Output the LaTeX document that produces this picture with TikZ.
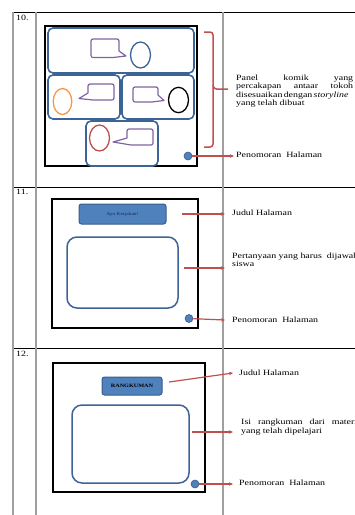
\documentclass[tikz,border=0pt]{standalone}
\usepackage{fontspec}
\setmainfont{Liberation Serif}
\newfontfamily\tf[FakeStretch=1.24]{Liberation Serif}
\usetikzlibrary{arrows.meta}
\definecolor{pnl}{HTML}{3C6496}
\definecolor{fillb}{HTML}{4F81BD}
\definecolor{dkb}{HTML}{385D8A}
\definecolor{purp}{HTML}{8064A2}
\definecolor{orng}{HTML}{F79646}
\definecolor{arred}{HTML}{C0504D}
\definecolor{navy}{HTML}{1A2A48}
\begin{document}
\begin{tikzpicture}[x=1pt,y=-1pt,
  frame/.style={draw=black,line width=1.6pt},
  panel/.style={draw=pnl,line width=1.6pt,rounded corners=5pt},
  bigbox/.style={draw=pnl,line width=1.5pt,rounded corners=10pt},
  bub/.style={draw=purp,line width=1.2pt,line join=round},
  face/.style={line width=1.3pt},
  pdot/.style={circle,fill=fillb,draw=dkb,line width=0.6pt,minimum size=8pt,inner sep=0pt},
  redarr/.style={draw=arred,line width=1.2pt,-{Stealth[length=4pt,width=3.5pt]}},
  lbl/.style={font=\tf\fontsize{8}{8.4}\selectfont,inner sep=0pt,anchor=west},
  tline/.style={draw=gray!75,line width=1.2pt},
  hline/.style={draw=black,line width=0.9pt},
  tbox/.style={fill=fillb,draw=dkb,line width=1pt,rounded corners=2.5pt,inner sep=0pt}
]
\useasboundingbox (0,0) rectangle (355,515);
% table
\draw[hline] (13,12) -- (355,12);
\draw[hline] (13,187) -- (355,187);
\draw[hline] (13,348) -- (355,348);
\draw[tline] (13,12) -- (13,515);
\draw[tline] (36,12) -- (36,515);
\draw[tline] (223,12) -- (223,515);
\node[lbl,anchor=north west] (n10) at (16,14.5) {10.};
\node[lbl,anchor=north west] (n11) at (16,189.5) {11.};
\node[lbl,anchor=north west] (n12) at (16,350.5) {12.};

% ===== Row 10 =====
\draw[frame] (45,26) rectangle (197,166);
\draw[panel] (48,28) rectangle (194,73);
\draw[panel] (48,75) rectangle (120,119);
\draw[panel] (122,75) rectangle (194,119);
\draw[panel] (86,121) rectangle (158,166);
% faces
\draw[face,draw=pnl] (140.5,55) ellipse [x radius=10pt,y radius=13pt];
\draw[face,draw=orng] (62.5,101.5) ellipse [x radius=9.3pt,y radius=13pt];
\draw[face,draw=black] (178.5,100) ellipse [x radius=10pt,y radius=12.7pt];
\draw[face,draw=arred] (99.5,138) ellipse [x radius=10pt,y radius=13pt];
% speech bubbles
\draw[bub] (93,39) -- (117,39) to[out=0,in=90] (119,41) -- (119,51) -- (126,56) -- (113,57.5) -- (93,57.5) to[out=180,in=-90] (91,55.5) -- (91,41) to[out=90,in=180] cycle;
\draw[bub] (112,84) to[out=0,in=90] (114,86) -- (114,98) to[out=-90,in=0] (112,100) -- (93,100) -- (79,98.5) -- (88,93) -- (88,86) to[out=90,in=180] (90,84) -- cycle;
\draw[bub] (135,87) -- (156,87) to[out=0,in=90] (158,89) -- (158,95) -- (164,100.5) -- (152,102) -- (135,102) to[out=180,in=-90] (133,100) -- (133,89) to[out=90,in=180] cycle;
\draw[bub] (151,129) to[out=0,in=90] (153,131) -- (153,143) to[out=-90,in=0] (151,145) -- (131,145) -- (113,142) -- (127,138) -- (127,131) to[out=90,in=180] (129,129) -- cycle;
% page number dot and bracket
\node[pdot] (d10) at (188,156) {};
\draw[draw=arred,line width=1.5pt,rounded corners=3pt] (204,32) -- (213,32) -- (213,147) -- (204,147);
\draw[draw=arred,line width=1.5pt,rounded corners=2.5pt] (213,85) -- (214,89) -- (228,89);
\coordinate (e10) at (234,156);
\draw[redarr] (d10) -- (e10);
\node[lbl,anchor=north west] (p10) at (236,74.5) {%
  \parbox{117pt}{\tf\fontsize{8}{8.4}\selectfont
  \hbox to 117pt{Panel\hfil komik\hfil yang}\par
  \hbox to 117pt{percakapan\hfil antaar\hfil tokoh}\par
  \hbox to 117pt{disesuaikan\kern1.3pt dengan\kern1.3pt\textit{storyline}\hss}\par
  \hbox{yang telah dibuat}}};
\node[lbl] (q10) at (236,155) {Penomoran\ \ Halaman};

% ===== Row 11 =====
\draw[frame] (52,199) rectangle (198,328);
\node[tbox,minimum width=87pt,minimum height=20pt] (t11) at (122.5,214) {\tf\fontsize{4.4}{5}\selectfont\color{navy}Ayo Kerjakan!};
\draw[bigbox] (67,237) rectangle (178,308);
\node[pdot] (d11) at (189,318.5) {};
\coordinate (s11a) at (182,214);
\coordinate (e11a) at (225,214);
\coordinate (s11b) at (184,268);
\coordinate (e11b) at (225,268);
\coordinate (e11c) at (225,320);
\draw[redarr] (s11a) -- (e11a);
\draw[redarr] (s11b) -- (e11b);
\draw[redarr] (d11) -- (e11c);
\node[lbl] (j11) at (232,213) {Judul Halaman};
\node[lbl,anchor=north west] (q11) at (232,253) {%
  \parbox{140pt}{\tf\fontsize{8}{7.8}\selectfont
  Pertanyaan yang harus\ \ dijawab\par siswa}};
\node[lbl] (r11) at (232,320) {Penomoran\ \ Halaman};

% ===== Row 12 =====
\draw[frame] (53,363) rectangle (205,492);
\node[tbox,minimum width=60pt,minimum height=18pt] (t12) at (132,386) {\tf\fontsize{5}{6}\selectfont\bfseries RANGKUMAN};
\draw[bigbox] (72,405) rectangle (189,483);
\node[pdot] (d12) at (195,484) {};
\coordinate (s12a) at (169,382);
\coordinate (e12a) at (233,373);
\coordinate (s12b) at (192,432);
\coordinate (e12b) at (233,432);
\coordinate (e12c) at (233,484);
\draw[redarr] (s12a) -- (e12a);
\draw[redarr] (s12b) -- (e12b);
\draw[redarr] (d12) -- (e12c);
\node[lbl] (j12) at (239,373) {Judul Halaman};
\node[lbl,anchor=north west] (q12) at (241,419) {%
  \parbox{116pt}{\tf\fontsize{8}{9}\selectfont
  \hbox to 116pt{Isi\hfil rangkuman\hfil dari\hfil materi}\par
  \hbox{yang telah dipelajari}}};
\node[lbl] (r12) at (239,483) {Penomoran\ \ Halaman};
\end{tikzpicture}
\end{document}
